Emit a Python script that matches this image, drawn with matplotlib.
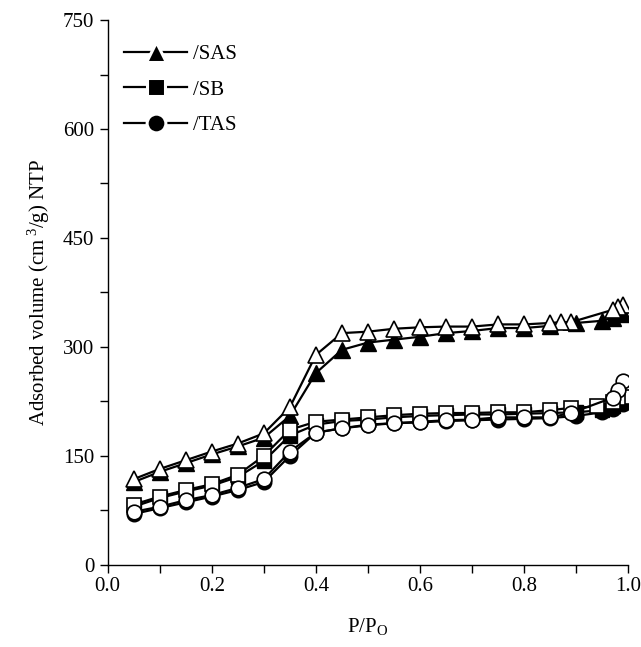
import matplotlib
matplotlib.use("Agg")
import matplotlib.pyplot as plt
from matplotlib.ticker import MultipleLocator
from matplotlib.lines import Line2D

plt.rcParams['font.family'] = ['Liberation Serif', 'DejaVu Serif']
plt.rcParams['mathtext.fontset'] = 'custom'
plt.rcParams['mathtext.rm'] = 'Liberation Serif'
plt.rcParams['mathtext.it'] = 'Liberation Serif:italic'

# Adsorption branch (filled markers)
x_ads = [0.05, 0.10, 0.15, 0.20, 0.25, 0.30, 0.35, 0.40, 0.45, 0.50, 0.55,
         0.60, 0.65, 0.70, 0.75, 0.80, 0.85, 0.90, 0.95, 0.97, 0.99]
sas_ads = [114, 128, 140, 152, 163, 175, 205, 264, 296, 306, 310,
           314, 319, 322, 326, 326, 329, 333, 336, 340, 345]
sb_ads = [80, 92, 101, 109, 121, 143, 178, 193, 198, 200, 203,
          205, 206, 207, 207, 208, 209, 210, 213, 218, 224]
tas_ads = [70, 78, 86, 94, 103, 114, 150, 182, 188, 192, 195,
           196, 198, 199, 200, 201, 202, 205, 210, 215, 222]

# Desorption branch (open markers)
x_des_sas = [0.99, 0.98, 0.97, 0.89, 0.87, 0.85, 0.80, 0.75, 0.70, 0.65, 0.60,
             0.55, 0.50, 0.45, 0.40, 0.35, 0.30, 0.25, 0.20, 0.15, 0.10, 0.05]
sas_des = [358, 355, 351, 334, 334, 333, 331, 331, 328, 328, 327,
           325, 321, 319, 289, 217, 181, 167, 156, 144, 132, 118]
x_des_sb = [0.99, 0.98, 0.97, 0.94, 0.89, 0.85, 0.80, 0.75, 0.70, 0.65, 0.60,
            0.55, 0.50, 0.45, 0.40, 0.35, 0.30, 0.25, 0.20, 0.15, 0.10, 0.05]
sb_des = [231, 229, 224, 218, 216, 213, 210, 210, 209, 209, 208,
          206, 203, 200, 197, 186, 150, 124, 111, 103, 94, 83]
x_des_tas = [0.99, 0.98, 0.97, 0.89, 0.85, 0.80, 0.75, 0.70, 0.65, 0.60,
             0.55, 0.50, 0.45, 0.40, 0.35, 0.30, 0.25, 0.20, 0.15, 0.10, 0.05]
tas_des = [253, 241, 230, 209, 203, 203, 203, 200, 199, 197,
           195, 193, 188, 182, 156, 118, 106, 96, 89, 80, 73]

labels = ['/SAS', '/SB', '/TAS']
markers = ['^', 's', 'o']

fig = plt.figure(figsize=(6.41, 6.47), dpi=100)
ax = fig.add_axes([0.168, 0.127, 0.812, 0.842])

lw = 1.6
series = [
    (x_ads, sas_ads, x_des_sas, sas_des, '^', 11.5),
    (x_ads, sb_ads, x_des_sb, sb_des, 's', 9.5),
    (x_ads, tas_ads, x_des_tas, tas_des, 'o', 10.5),
]
for xa, ya, xd, yd, m, s in series:
    ax.plot(xa, ya, color='black', lw=lw, marker=m, ms=s,
            mfc='black', mec='black', zorder=2)
for xa, ya, xd, yd, m, s in series:
    ax.plot(xd, yd, color='black', lw=lw, marker=m, ms=s,
            mfc='white', mec='black', mew=1.2, zorder=3)

ax.set_xlim(0, 1.0)
ax.set_ylim(0, 750)
ax.xaxis.set_major_locator(MultipleLocator(0.2))
ax.xaxis.set_minor_locator(MultipleLocator(0.1))
ax.yaxis.set_major_locator(MultipleLocator(150))
ax.yaxis.set_minor_locator(MultipleLocator(75))
ax.xaxis.set_major_formatter(plt.FuncFormatter(lambda v, p: f"{v:.1f}"))
ax.tick_params(which='both', direction='out', length=6, width=1, labelsize=15)
ax.tick_params(axis='x', pad=3)
for sp in ['top', 'right']:
    ax.spines[sp].set_visible(False)
ax.spines['left'].set_linewidth(1)
ax.spines['bottom'].set_linewidth(1)

ax.set_xlabel('P/P$_\\mathrm{O}$', fontsize=15, labelpad=14)
ax.set_ylabel('Adsorbed volume (cm$^{\\ 3}$/g) NTP', fontsize=15, labelpad=8)

handle_ms = [14, 12.5, 13.5]
handles = [Line2D([], [], color='black', lw=lw, marker=m, ms=s,
                  mfc='black', mec='white', mew=2.2)
           for m, s in zip(markers, handle_ms)]
ax.legend(handles, labels, loc='upper left', bbox_to_anchor=(0.0, 0.985),
          frameon=False, fontsize=15, handlelength=3.0, handletextpad=0.3,
          labelspacing=0.75, borderaxespad=0.4)

fig.savefig('out.png', dpi=100)
